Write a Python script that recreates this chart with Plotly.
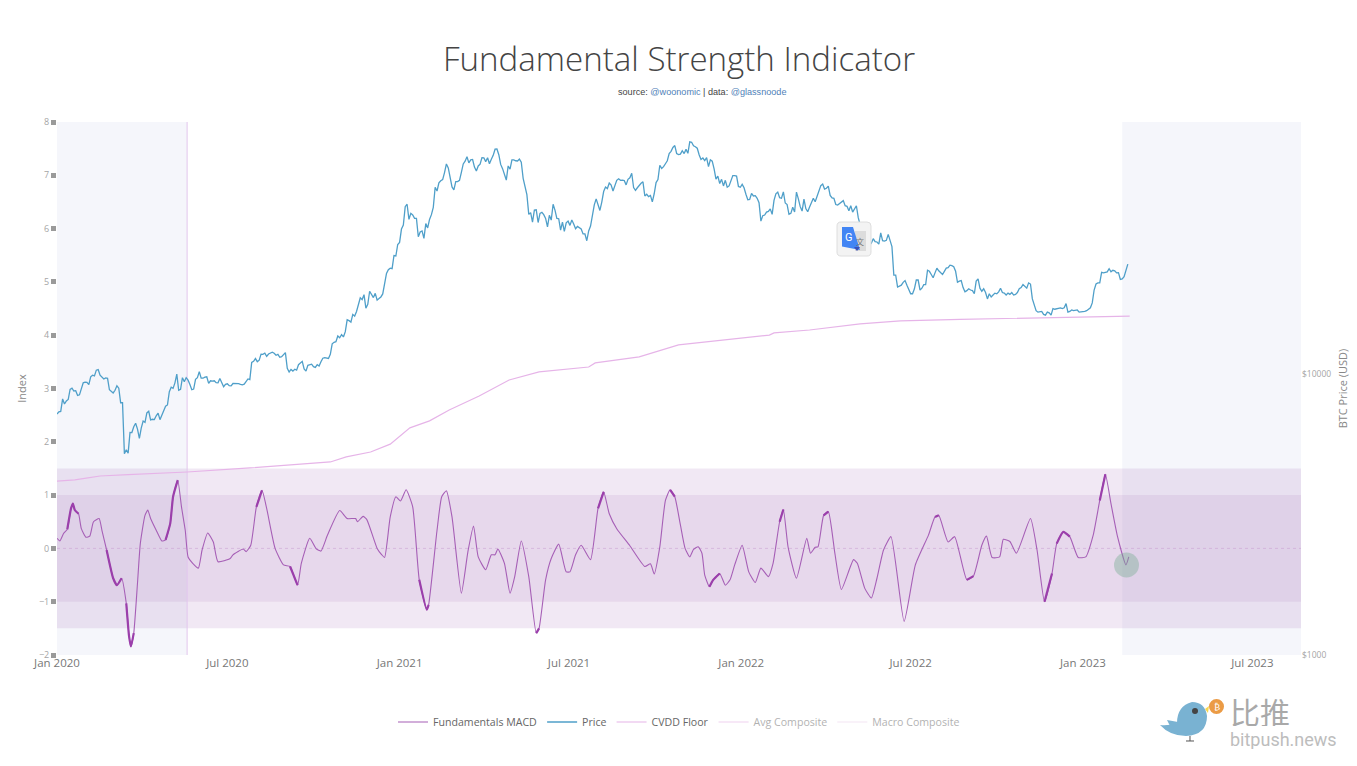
import pandas as pd
import plotly.graph_objects as go

START = pd.Timestamp("2020-01-01")

# BTC price in USD, read every 4 days from each year's first offset
price_2020 = [7200,7360,7820,8120,8900,8720,8430,9300,9340,9770,9850,10370,9700,9680,8790,8560,9080,7900,5200,5230,
              6190,6680,5900,6800,7270,6870,6880,7260,7130,7680,8650,8890,9990,8820,9380,9510,8790,9570,10200,9660,
              9770,9460,9460,9300,9250,9190,9090,9250,9240,9190,9200,9600,11000,11350,11200,11750,11550,11900,11850,11750,
              11530,11920,10170,10240,10320,10950,10420,10740,10840,10550,10670,11380,11430,11750,12970,13650,13800,14150,15480,16300,
              16700,18680,19160,17700,19220,19360,18550,19270,22800,23800,26400,28900]
price_2021 = [32800,39400,35500,36800,35800,32000,30400,33100,36900,46200,47900,49200,55900,49700,45200,48400,52200,57200,56400,58000,
              52800,55800,58800,58800,58100,63100,60300,53800,49000,53600,57800,57300,56700,46800,37000,34700,38400,37300,36900,33400,
              35300,38300,35700,34700,34500,33800,34200,33500,32800,31500,32300,37300,42000,38200,44600,45700,47000,46700,49500,49000,
              47100,49900,46100,46000,47700,43000,42800,41000,48000,55300,54700,57400,62000,65000,60400,62300,63000,67000,64900,63600,
              58000,57500,54700,57200,49400,47600,46700,46200,49000,50800,46500]
price_2022 = [47300,43600,41800,43000,42200,35000,36800,37900,37000,43800,42400,44500,40100,37300,37700,42000,38000,38800,39300,42200,
              42900,46800,45500,46600,42300,40100,40500,41400,39500,39700,38500,36000,31000,30000,28700,30300,29500,31800,29700,31400,
              28400,22500,20500,21200,20700,19300,20100,21600,20200,20800,23200,22000,23800,23000,23200,23900,24300,23200,21400,20300,
              19800,19900,19300,21800,19700,19500,19300,19100,19300,20200,19400,19400,19500,19200,20100,20800,20200,20900,17600,16600,
              16700,16200,16500,17100,17100,17200,17200,16600,16900,16800,16600]
price_2023 = [16600,16800,17200,19900,21100,23000,23000,23700,23400,22900,21700,22200,24600]

# Readings halfway between the ones above
mid_2020 = [7340,8150,8020,8820,8700,8390,8900,9350,9160,9900,10320,9900,9600,9650,8700,8750,8900,7900,5370,6200,
            6490,6370,6420,6730,7370,6900,7100,6880,7500,7760,8980,9300,8750,9700,9700,9170,8840,9700,9660,9750,
            9260,9430,9310,9630,9010,9230,9070,9250,9240,9150,9400,9550,11100,11060,11770,11870,11780,11950,11660,11470,
            11700,10480,10380,10400,10790,11090,10240,10770,10620,10790,11050,11430,11360,12800,13030,13460,13550,15590,15300,16070,
            17800,18400,17150,19700,18700,18320,18800,21300,23500,23700,26300]
mid_2021 = [29400,33900,40200,37300,35800,30800,32300,34300,35500,39200,44800,48700,52100,54100,46300,48400,48900,55900,59300,57800,
            54500,55000,58900,57000,56000,60000,63200,55700,51700,55000,57800,57400,58200,49700,43500,37500,38300,34600,37600,35800,
            36700,40200,35800,32500,32200,35000,35300,32900,33100,31500,29800,33600,40000,39900,40900,46300,47800,44800,48900,48900,
            48800,49300,51800,45000,47100,48300,43600,43200,43800,49200,53900,56000,60900,64000,60900,60600,60900,61000,66800,64400,
            60300,58700,58900,57800,53700,50600,49300,48900,46700,50800,50600,46200]
mid_2022 = [46000,41700,43900,43100,40700,36600,37700,38700,41500,44400,42200,40600,37000,39200,44400,39400,41900,37800,41100,41000,
            44300,47400,45800,43200,42200,39900,40800,39700,38100,37700,39700,34000,29000,29800,29200,29600,29000,29800,29900,30100,
            22500,20400,20700,21500,20100,19300,21600,19900,20800,23400,22600,22900,23300,22600,23800,24400,24100,21200,21500,19600,
            20100,19800,21400,20200,20100,18500,18800,19400,19600,19500,19100,19200,19100,19500,20300,20500,21100,18500,16800,16600,
            16300,16600,16200,17000,17100,17100,17800,16700,16800,16900,16600]
mid_2023 = [16700,16950,17900,20900,21100,22900,23100,23100,23300,22950,21800,23500]

cvdd_days = [0,19,33,46,76,139,206,260,292,309,335,356,377,398,419,451,483,515,568,575,
             622,664,692,761,766,804,858,901,965,1030,1146]
cvdd_usd = [4160,4200,4266,4335,4387,4480,4630,4786,4864,5070,5277,5630,6430,6810,7450,8350,9520,10170,10590,10950,
            11500,12690,13000,13760,14000,14340,15070,15450,15640,15820,16080]

macd_days = [0,3,7,11,15,17,19,23,26,31,35,39,45,48,53,60,64,69,74,77,79,82,86,89,94,97,100,106,112,116,121,124,129,133,137,140,
             145,151,155,161,167,172,185,188,199,202,207,213,219,224,233,242,249,257,261,270,277,282,289,302,
             310,319,321,327,331,342,347,350,356,362,367,373,380,387,395,397,406,411,416,422,432,439,445,450,458,464,468,471,478,484,489,496,
             504,512,515,522,528,536,544,548,554,560,570,578,584,590,598,612,628,634,638,644,650,655,660,666,
             671,676,680,685,689,692,697,701,708,714,719,724,732,739,746,752,760,765,772,776,781,790,801,805,810,813,819,824,831,838,
             851,855,863,870,876,883,891,905,917,931,938,942,952,959,972,979,988,993,999,1007,
             1011,1018,1025,1040,1047,1055,1063,1068,1075,1082,1091,1099,1107,1114,1120,1126,1133,1142,1145]
macd_val = [.19,.14,.28,.36,.75,.84,.72,.65,.37,.21,.23,.50,.56,.34,-.03,-.56,-.69,-.56,-1.03,-1.65,-1.84,-1.59,-.65,.09,.62,.72,.56,.34,.14,.16,.47,.97,1.28,.78,.34,-.16,
            -.28,-.37,-.03,.29,.12,-.25,-.19,-.12,-.01,-.06,.06,.78,1.09,.75,0,-.31,-.34,-.69,-.28,.19,-.01,-.05,.25,.71,
            .56,.56,.50,.60,.54,0,-.12,-.17,.59,.97,.89,1.10,.78,-.59,-1.15,-1.06,.34,.97,1.08,.59,-.84,-.06,.42,-.16,-.40,-.12,-.12,-.01,-.28,-.84,-.53,.14,
            -.53,-1.59,-1.50,-.59,-.19,.08,-.44,-.44,-.12,.06,-.21,.75,1.06,.65,.37,.05,-.34,-.29,-.48,.03,.90,1.10,.97,.44,
            0,-.16,-.02,.03,-.09,-.50,-.72,-.59,-.47,-.69,-.59,-.31,.06,-.44,-.64,-.37,-.53,-.28,.50,.73,.03,-.56,.19,-.09,.02,.03,.62,.69,-.09,-.77,
            -.21,-.28,-.75,-.93,-.56,-.03,.22,-1.37,-.31,.25,.59,.62,.12,.22,-.59,-.52,.06,.23,-.17,-.16,
            .17,.13,-.09,.56,-.03,-1.0,-.47,.09,.31,.22,-.17,-.16,.25,.90,1.39,.84,.22,-.31,-.16]

# Stretches (days) where the indicator is visibly noisier in the picture
noisy_spans = [(11,23),(53,70),(74,84),(116,131),(211,222),(245,258),(386,398),(430,433),(508,517),(576,585),
               (653,661),(695,712),(770,777),(819,826),(938,944),(972,980),(1052,1066),(1068,1082),(1109,1122)]

hidden_composite = [0]

TICK_LEFT = [-2,-1,0,1,2,3,4,5,6,7,8]
TICK_RIGHT = [1000, 10000]
TICK_RIGHT_TEXT = ["$1000", "$10000"]

W, H = 1357, 766
L, R, T, B = 57, 1301, 122, 655
def px(x): return (x - L) / (R - L)
def py(y): return (B - y) / (B - T)
def day(n): return START + pd.Timedelta(days=n)
def path(cmds):
    out = []
    for c in cmds:
        if isinstance(c, str):
            out.append(c)
        else:
            out.append(f"{px(c[0]):.5f},{py(c[1]):.5f}")
    return " ".join(out)

pairs = []
for values, first in [(price_2020,0),(mid_2020,2),(price_2021,368),(mid_2021,366),(price_2022,732),(mid_2022,734),(price_2023,1096),(mid_2023,1098)]:
    pairs += [(first + 4*i, v) for i, v in enumerate(values)]
pairs.sort()
price_x = [day(d) for d, _ in pairs]
price_y = [v for _, v in pairs]

macd_x = [day(d) for d in macd_days]

thick_x, thick_y = [], []
for a, b in noisy_spans:
    for d, v in zip(macd_days, macd_val):
        if a <= d <= b:
            thick_x.append(day(d)); thick_y.append(v)
    thick_x.append(None); thick_y.append(None)

PURPLE = "#a65fb6"
fig = go.Figure()
fig.add_trace(go.Scatter(x=macd_x, y=macd_val, name="Fundamentals MACD", mode="lines",
                         line=dict(color=PURPLE, width=1.1, shape="spline", smoothing=0.5)))
fig.add_trace(go.Scatter(x=price_x, y=price_y, name="Price", mode="lines", yaxis="y2",
                         line=dict(color="#4f9fc9", width=1.3)))
fig.add_trace(go.Scatter(x=[day(d) for d in cvdd_days], y=cvdd_usd, name="CVDD Floor", mode="lines", yaxis="y2",
                         line=dict(color="#e6b4e8", width=1.2)))
fig.add_trace(go.Scatter(x=[START], y=hidden_composite, name="Avg Composite", mode="lines",
                         visible="legendonly", line=dict(color="#e6b4e8", width=1.2)))
fig.add_trace(go.Scatter(x=[START], y=hidden_composite, name="Macro Composite", mode="lines",
                         visible="legendonly", line=dict(color="#efd6ef", width=1.2)))
fig.add_trace(go.Scatter(x=thick_x, y=thick_y, mode="lines", showlegend=False, connectgaps=False,
                         line=dict(color="#9b3fab", width=2.2, shape="spline", smoothing=0.5)))

SHADE = "rgba(60,70,170,0.05)"
shapes = [
    dict(type="rect", xref="x", yref="paper", x0=day(0), x1=day(139), y0=0, y1=1, fillcolor=SHADE, line_width=0, layer="below"),
    dict(type="rect", xref="x", yref="paper", x0=day(1138), x1=day(1329), y0=0, y1=1, fillcolor=SHADE, line_width=0, layer="below"),
    dict(type="rect", xref="paper", yref="y", x0=0, x1=1, y0=-1.5, y1=1.5, fillcolor="rgba(150,80,170,0.13)", line_width=0, layer="below"),
    dict(type="rect", xref="paper", yref="y", x0=0, x1=1, y0=-1, y1=1, fillcolor="rgba(150,80,170,0.10)", line_width=0, layer="below"),
    dict(type="line", xref="paper", yref="y", x0=0, x1=1, y0=0, y1=0, line=dict(color="#c9a3d3", width=0.6, dash="dot"), layer="below"),
    dict(type="line", xref="x", yref="paper", x0=day(139), x1=day(139), y0=0, y1=1, line=dict(color="#e2c6ee", width=1), layer="below"),
    # highlight circle
    dict(type="circle", xref="paper", yref="paper", x0=px(1114), x1=px(1139), y0=py(577.5), y1=py(552.5),
         fillcolor="rgba(118,172,145,0.4)", line_width=0),
    # translate icon
    dict(type="path", xref="paper", yref="paper", fillcolor="#f3f3f3", line=dict(color="#dedede", width=1),
         path=path(["M",(841,222),"L",(867,222),"Q",(871,222),(871,226),"L",(871,252),"Q",(871,256),(867,256),"L",(841,256),"Q",(837,256),(837,252),"L",(837,226),"Q",(837,222),(841,222),"Z"])),
    dict(type="rect", xref="paper", yref="paper", x0=px(855), x1=px(866), y0=py(251), y1=py(231), fillcolor="#dcdcdc", line_width=0),
    dict(type="path", xref="paper", yref="paper", fillcolor="#4285f4", line_width=0,
         path=path(["M",(842,227),"L",(853,227),"L",(860,250),"L",(842,246.5),"Z"])),
    dict(type="path", xref="paper", yref="paper", fillcolor="#3b4fb8", line_width=0,
         path=path(["M",(854,247),"L",(860,247),"L",(857,251),"Z"])),
    # watermark bird
    dict(type="path", xref="paper", yref="paper", fillcolor="#79b2d2", line_width=0,
         path=path(["M",(1160,725),"Q",(1168,726),(1177,723),"Q",(1177,706),(1192,702),"Q",(1205,702),(1207,716),
                    "Q",(1207,735),(1186,736),"Q",(1170,736),(1160,725),"Z"])),
    dict(type="path", xref="paper", yref="paper", fillcolor="#79b2d2", line_width=0,
         path=path(["M",(1167,720),"L",(1178,722),"L",(1172,730),"Z"])),
    dict(type="path", xref="paper", yref="paper", fillcolor="#f7d64f", line_width=0,
         path=path(["M",(1205,709),"L",(1209,706),"L",(1208,713),"Z"])),
    dict(type="circle", xref="paper", yref="paper", x0=px(1192), x1=px(1198), y0=py(714), y1=py(708), fillcolor="#444444", line_width=0),
    dict(type="circle", xref="paper", yref="paper", x0=px(1209), x1=px(1224), y0=py(714), y1=py(699), fillcolor="#eb9b45", line_width=0),
    dict(type="path", xref="paper", yref="paper", line=dict(color="#555555", width=1),
         path=path(["M",(1190,736),"L",(1190,741),"M",(1186,741),"L",(1194,741)])),
]

def ann(text, x, y, size, color, family="Open Sans", **kw):
    return dict(text=text, xref="paper", yref="paper", x=px(x), y=py(y), xanchor="center", yanchor="middle",
                showarrow=False, font=dict(size=size, color=color, family=family), **kw)

annotations = [
    ann('source: <span style="color:#4f7fb8">@woonomic</span> | data: <span style="color:#4f7fb8">@glassnoode</span>',
        702.5, 91.5, 9.1, "#444444", family="Liberation Sans"),
    ann("G", 849, 237, 11, "#ffffff", family="Roboto"),
    ann("文", 860, 241, 8, "#777777", family="Noto Sans CJK SC"),
    ann("₿", 1216.5, 706.5, 9, "#ffffff", family="DejaVu Sans"),
    ann("比推", 1260, 711, 30, "#a9a9a9", family="Noto Sans CJK SC", height=30),
    ann("bitpush.news", 1283, 739, 18, "#bdbdbd", family="Roboto", height=20),
]

fig.update_layout(
    width=W, height=H, autosize=False,
    margin=dict(l=L, r=W-R, t=T, b=H-B, pad=0, autoexpand=False),
    paper_bgcolor="white", plot_bgcolor="white",
    font=dict(family="Open Sans", color="#888888"),
    title=dict(text="Fundamental Strength Indicator", x=0.5, xref="paper", xanchor="center",
               y=1-59/H, yref="container", yanchor="middle",
               font=dict(family="Open Sans", size=33.1, color="#444444", weight=300)),
    xaxis=dict(type="date", range=[START, day(1329)], dtick="M6", tick0="2020-01-01", tickformat="%b %Y",
               showgrid=False, zeroline=False, showline=False, ticks="",
               tickfont=dict(size=11.5, color="#777777"), ticklabelstandoff=-1),
    yaxis=dict(range=[-2, 8], tickvals=TICK_LEFT, showgrid=False, zeroline=False, ticks="outside",
               ticklen=5, tickwidth=5, tickcolor="#9a9a9a", tickfont=dict(size=9, color="#a5a5a5"),
               title=dict(text="Index", font=dict(size=11, color="#888888"), standoff=10)),
    yaxis2=dict(type="log", range=[3, 3 + (B-T)/281], overlaying="y", side="right", anchor="x",
                tickvals=TICK_RIGHT, ticktext=TICK_RIGHT_TEXT, showgrid=False, zeroline=False, ticks="",
                tickfont=dict(size=8.5, color="#a5a5a5"),
                title=dict(text="BTC Price (USD)", font=dict(size=11, color="#888888"), standoff=8)),
    legend=dict(orientation="h", x=0.5, xanchor="center", y=py(722), yanchor="middle",
                font=dict(size=10.6, color="#666666"), bgcolor="rgba(0,0,0,0)"),
    shapes=shapes, annotations=annotations, hovermode=False,
)

fig.write_html("out.html", post_script="document.body.style.margin='0';", config=dict(displayModeBar=False))
